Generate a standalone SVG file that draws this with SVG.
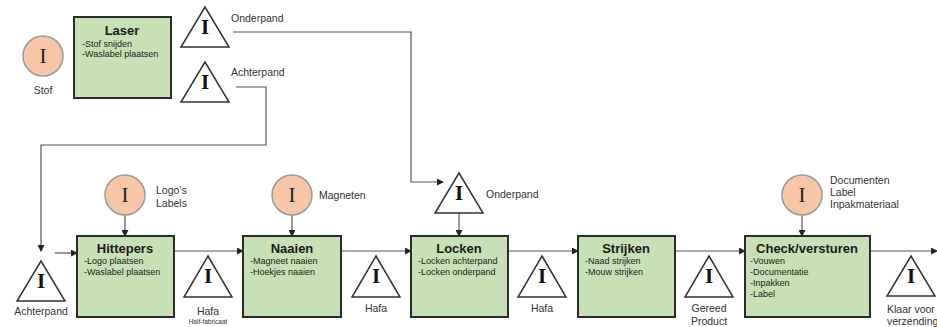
<svg xmlns="http://www.w3.org/2000/svg" width="937" height="327" viewBox="0 0 937 327">
<defs>
<marker id="arr" viewBox="0 0 8 8" refX="7" refY="4" markerWidth="7" markerHeight="7" markerUnits="userSpaceOnUse" orient="auto">
<path d="M0,0 L8,4 L0,8 z" fill="#222"/>
</marker>
<style>
.box{fill:#c7e0b5;stroke:#2b2b2b;stroke-width:2}
.circ{fill:#f6c6a6;stroke:#9a9a9a;stroke-width:1.5}
.tri{fill:#fff;stroke:#333;stroke-width:1.5}
.ti{font-family:"Liberation Serif","Times New Roman",serif;font-size:21px;font-weight:bold;fill:#111;text-anchor:middle}
.ci{font-family:"Liberation Serif","Times New Roman",serif;font-size:21px;fill:#222;text-anchor:middle}
.title{font-family:"Liberation Sans",Arial,sans-serif;font-size:13px;font-weight:bold;fill:#1a1a1a;text-anchor:middle}
.bul{font-family:"Liberation Sans",Arial,sans-serif;font-size:9px;fill:#222}
.lbl{font-family:"Liberation Sans",Arial,sans-serif;font-size:10.5px;fill:#333}
.mid{text-anchor:middle}
.small{font-family:"Liberation Sans",Arial,sans-serif;font-size:6.5px;fill:#333;text-anchor:middle}
.con{fill:none;stroke:#555;stroke-width:1.2}
</style>
</defs>
<rect width="937" height="327" fill="#fff"/>

<g id="connectors">
<polyline class="con" points="233,32 411,32 411,182 443,182" marker-end="url(#arr)"/>
<polyline class="con" points="236,87 266,87 266,145 41,145 41,251" marker-end="url(#arr)"/>
<line class="con" x1="55" y1="253" x2="77" y2="253" marker-end="url(#arr)"/>
<line class="con" x1="174" y1="251" x2="243" y2="251" marker-end="url(#arr)"/>
<line class="con" x1="341" y1="251" x2="411" y2="251" marker-end="url(#arr)"/>
<line class="con" x1="508" y1="251" x2="578" y2="251" marker-end="url(#arr)"/>
<line class="con" x1="675" y1="251" x2="745" y2="251" marker-end="url(#arr)"/>
<line class="con" x1="870" y1="251" x2="937" y2="251" marker-end="url(#arr)"/>
<line class="con" x1="125" y1="215" x2="125" y2="236" marker-end="url(#arr)"/>
<line class="con" x1="292" y1="215" x2="292" y2="236" marker-end="url(#arr)"/>
<line class="con" x1="802" y1="215" x2="802" y2="236" marker-end="url(#arr)"/>
<line class="con" x1="459" y1="213" x2="459" y2="236" marker-end="url(#arr)"/>
</g>

<g id="stof">
<circle class="circ" cx="43" cy="56" r="20"/>
<text class="ci" x="43" y="63">I</text>
<text class="lbl mid" x="43" y="94">Stof</text>
</g>

<g id="laser">
<rect class="box" x="74" y="17" width="97" height="81"/>
<text class="title" x="122" y="35">Laser</text>
<text class="bul" x="82" y="47">-Stof snijden</text>
<text class="bul" x="82" y="57">-Waslabel plaatsen</text>
</g>

<g id="onderpand-top">
<polygon class="tri" points="205,7 229,47 181,47"/>
<text class="ti" x="205" y="34">I</text>
<text class="lbl" x="231" y="22">Onderpand</text>
</g>

<g id="achterpand-top">
<polygon class="tri" points="205,62 229,102 181,102"/>
<text class="ti" x="205" y="89">I</text>
<text class="lbl" x="231" y="76">Achterpand</text>
</g>

<g id="achterpand-bottom">
<polygon class="tri" points="41,261 65,301 17,301"/>
<text class="ti" x="41" y="288">I</text>
<text class="lbl mid" x="41" y="315">Achterpand</text>
</g>

<g id="logos">
<circle class="circ" cx="125" cy="195" r="20"/>
<text class="ci" x="125" y="202">I</text>
<text class="lbl" x="156" y="194">Logo’s</text>
<text class="lbl" x="156" y="207">Labels</text>
</g>

<g id="hittepers">
<rect class="box" x="77" y="236" width="97" height="81"/>
<text class="title" x="125" y="253">Hittepers</text>
<text class="bul" x="84" y="264">-Logo plaatsen</text>
<text class="bul" x="84" y="275">-Waslabel plaatsen</text>
</g>

<g id="hafa1">
<polygon class="tri" points="208,256 232,297 184,297"/>
<text class="ti" x="208" y="283">I</text>
<text class="lbl mid" x="208" y="315">Hafa</text>
<text class="small" x="208" y="324">Half-fabricaat</text>
</g>

<g id="magneten">
<circle class="circ" cx="292" cy="195" r="20"/>
<text class="ci" x="292" y="202">I</text>
<text class="lbl" x="319" y="199">Magneten</text>
</g>

<g id="naaien">
<rect class="box" x="243" y="236" width="98" height="81"/>
<text class="title" x="292" y="253">Naaien</text>
<text class="bul" x="250" y="264">-Magneet naaien</text>
<text class="bul" x="250" y="275">-Hoekjes naaien</text>
</g>

<g id="hafa2">
<polygon class="tri" points="376,256 400,297 352,297"/>
<text class="ti" x="376" y="283">I</text>
<text class="lbl mid" x="376" y="312">Hafa</text>
</g>

<g id="onderpand-locken">
<polygon class="tri" points="459,173 483,213 435,213"/>
<text class="ti" x="459" y="200">I</text>
<text class="lbl" x="486" y="198">Onderpand</text>
</g>

<g id="locken">
<rect class="box" x="411" y="236" width="97" height="81"/>
<text class="title" x="459" y="253">Locken</text>
<text class="bul" x="418" y="264">-Locken achterpand</text>
<text class="bul" x="418" y="275">-Locken onderpand</text>
</g>

<g id="hafa3">
<polygon class="tri" points="542,256 566,297 518,297"/>
<text class="ti" x="542" y="283">I</text>
<text class="lbl mid" x="542" y="312">Hafa</text>
</g>

<g id="strijken">
<rect class="box" x="578" y="236" width="97" height="81"/>
<text class="title" x="626" y="253">Strijken</text>
<text class="bul" x="585" y="264">-Naad strijken</text>
<text class="bul" x="585" y="275">-Mouw strijken</text>
</g>

<g id="gereed">
<polygon class="tri" points="709,256 733,297 685,297"/>
<text class="ti" x="709" y="283">I</text>
<text class="lbl mid" x="709" y="312">Gereed</text>
<text class="lbl mid" x="709" y="325">Product</text>
</g>

<g id="documenten">
<circle class="circ" cx="802" cy="195" r="20"/>
<text class="ci" x="802" y="202">I</text>
<text class="lbl" x="830" y="184">Documenten</text>
<text class="lbl" x="830" y="196">Label</text>
<text class="lbl" x="830" y="208">Inpakmateriaal</text>
</g>

<g id="check">
<rect class="box" x="745" y="236" width="125" height="81"/>
<text class="title" x="807" y="253">Check/versturen</text>
<text class="bul" x="750" y="264">-Vouwen</text>
<text class="bul" x="750" y="275">-Documentatie</text>
<text class="bul" x="750" y="286">-Inpakken</text>
<text class="bul" x="750" y="297">-Label</text>
</g>

<g id="klaar">
<polygon class="tri" points="911,256 935,296 887,296"/>
<text class="ti" x="911" y="283">I</text>
<text class="lbl" x="887" y="313">Klaar voor</text>
<text class="lbl" x="887" y="325">verzending</text>
</g>
</svg>
